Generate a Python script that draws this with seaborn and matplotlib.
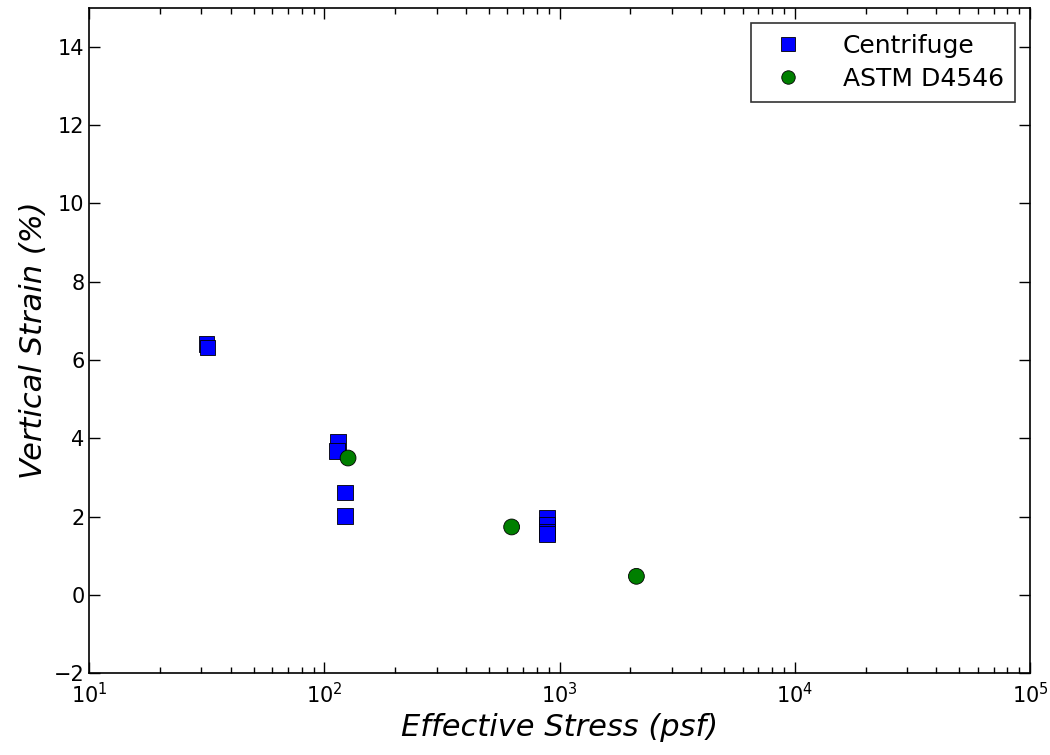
import matplotlib
matplotlib.use("Agg")
import matplotlib.pyplot as plt
import seaborn as sns
import pandas as pd
import numpy as np

# Data
centrifuge_stress = [31.5, 31.8, 114, 113, 122, 122, 880, 885, 882, 884]
centrifuge_strain = [6.42, 6.32, 3.90, 3.67, 2.62, 2.02, 1.98, 1.78, 1.62, 1.55]
astm_stress = [126, 625, 2120]
astm_strain = [3.50, 1.74, 0.48]
series_names = ["Centrifuge", "ASTM D4546"]

df = pd.concat([
    pd.DataFrame({"stress": centrifuge_stress, "strain": centrifuge_strain, "series": series_names[0]}),
    pd.DataFrame({"stress": astm_stress, "strain": astm_strain, "series": series_names[1]}),
], ignore_index=True)

sns.set_style("ticks")
plt.rcParams["font.family"] = ["DejaVu Sans"]
plt.rcParams["text.color"] = "black"
plt.rcParams["axes.labelcolor"] = "black"
plt.rcParams["xtick.color"] = "black"
plt.rcParams["ytick.color"] = "black"

fig, ax = plt.subplots(figsize=(10.5, 7.55), dpi=100)
fig.subplots_adjust(left=0.085, right=0.981, top=0.99, bottom=0.108)

sns.scatterplot(data=df, x="stress", y="strain", hue="series", style="series",
                palette={series_names[0]: "#0000ff", series_names[1]: "#007f00"},
                markers={series_names[0]: "s", series_names[1]: "o"},
                s=130, edgecolor="black", linewidth=0.6, ax=ax, legend=True)

ax.set_xscale("log")
ax.set_xlim(10, 1e5)
ax.set_ylim(-2, 15)
ax.set_yticks([-2, 0, 2, 4, 6, 8, 10, 12, 14])
ax.tick_params(which="both", direction="in", top=True, right=True, labelsize=15)
ax.tick_params(axis="x", which="both", pad=6)
ax.tick_params(which="major", length=8, width=1)
ax.tick_params(which="minor", length=4, width=1)
for sp in ax.spines.values():
    sp.set_linewidth(1.2)
    sp.set_color("black")

ax.set_xlabel("Effective Stress (psf)", fontsize=22, style="italic")
ax.set_ylabel("Vertical Strain (%)", fontsize=22, style="italic")

leg = ax.legend(loc="upper right", fontsize=18, frameon=True, fancybox=False,
                edgecolor="black", borderpad=0.45, handletextpad=1.2,
                labelspacing=0.35, markerscale=0.85, borderaxespad=0.6)
leg.get_frame().set_linewidth(1.2)

fig.savefig("out.png", dpi=100)
